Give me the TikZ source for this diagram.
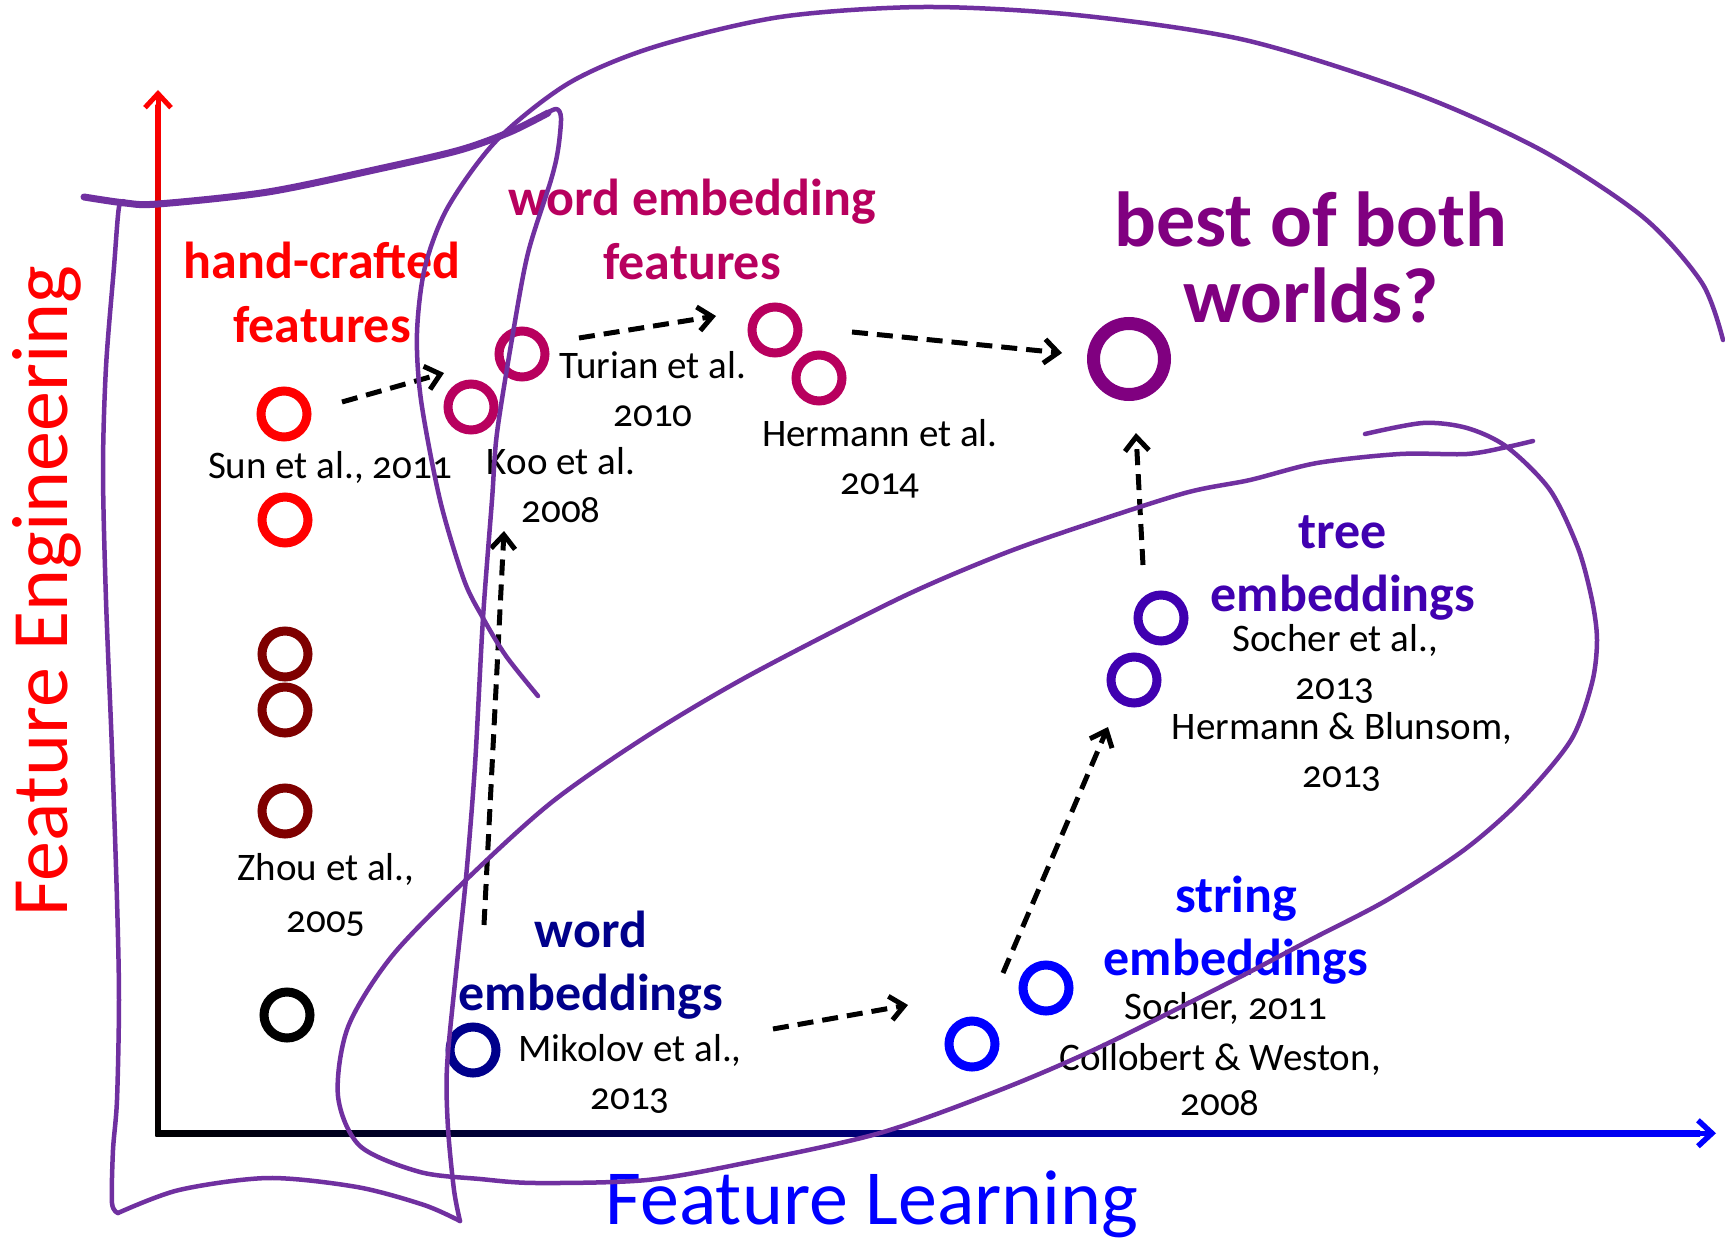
\documentclass[tikz,border=0pt]{standalone}
\usepackage{fontspec}
\setmainfont{Carlito}[Numbers=OldStyle]
\usetikzlibrary{arrows.meta,calc}
\definecolor{hpurple}{HTML}{7030A0}
\definecolor{maroonc}{HTML}{7F0000}
\definecolor{crim}{HTML}{B8005E}
\definecolor{bpurple}{HTML}{800080}
\definecolor{indig}{HTML}{4000B0}
\definecolor{navyc}{HTML}{00008B}
\tikzset{
  ring/.style={circle, draw, line width=9pt, minimum size=46pt, inner sep=0pt},
  cite/.style={font=\fontsize{39}{48}\selectfont, align=center, anchor=base, inner sep=0pt},
  lbl/.style={font=\bfseries\fontsize{52}{63.5}\selectfont, align=center, anchor=base, inner sep=0pt},
  flow/.style={black, line width=5pt, dash pattern=on 16pt off 9pt, -{Straight Barb[length=14pt,width=24pt]}},
  hand/.style={draw=hpurple, line width=4.5pt, line cap=round, line join=round},
}
\begin{document}
\begin{tikzpicture}[x=1pt, y=-1pt]
\fill[white] (0,0) rectangle (1725,1241);
\useasboundingbox (0,0) rectangle (1725,1241);

% axes
\shade[top color=red, bottom color=black] (155.5,105) rectangle (160.5,1136);
\shade[left color=black, right color=blue] (155.5,1130.5) rectangle (1700,1136);
\draw[red, line width=5pt, -{Straight Barb[length=14pt,width=26pt]}] (158,130) -- (158,90);
\draw[blue, line width=5.5pt, -{Straight Barb[length=14pt,width=26pt]}] (1680,1133.25) -- (1716,1133.25);

\node[font=\fontsize{80}{96}\selectfont, text=red, rotate=90, anchor=base, inner sep=0pt] (fe) at (67,591) {Feature Engineering};
\node[font=\fontsize{78}{90}\selectfont, text=blue, anchor=base, inner sep=0pt] (fl) at (872,1224) {Feature Learning};

% circles
\node[ring, draw=red] (sun) at (284,414) {};
\node[ring, draw=red] (hc2) at (285,520) {};
\node[ring, draw=maroonc] (zA) at (285,654) {};
\node[ring, draw=maroonc] (zB) at (285,710) {};
\node[ring, draw=maroonc] (zC) at (285,811) {};
\node[ring, draw=black] (hc0) at (287,1015) {};
\node[ring, draw=crim] (koo) at (471,407) {};
\node[ring, draw=crim] (turian) at (522,354) {};
\node[ring, draw=crim] (hermA) at (775,330) {};
\node[ring, draw=crim] (hermB) at (819,378) {};
\node[ring, draw=bpurple, line width=13pt, minimum size=71pt] (best) at (1129,359) {};
\node[ring, draw=indig] (socherT) at (1161,618) {};
\node[ring, draw=indig] (hb) at (1134,680) {};
\node[ring, draw=blue] (socherS) at (1046,988) {};
\node[ring, draw=blue] (cw) at (972,1044) {};
\node[ring, draw=navyc] (mik) at (473,1050) {};

% group labels (anchor = baseline of last line)
\node[lbl, text=red] (hcl) at (322,342.5) {hand-crafted\\features};
\node[lbl, text=crim] (wefl) at (692,279.5) {word embedding\\features};
\node[font=\bfseries\fontsize{78}{76}\selectfont, align=center, anchor=base, inner sep=0pt, text=bpurple] (bestl) at (1311,323) {best of both\\worlds?};
\node[lbl, text=indig] (treel) at (1343,611.5) {tree\\embeddings};
\node[lbl, text=blue] (strl) at (1236,975.5) {string\\embeddings};
\node[lbl, text=navyc] (wel) at (591,1010.5) {word\\embeddings};

% citations
\node[cite] (c1) at (330,478) {Sun et al., 2011};
\node[cite] (c2) at (561,522) {Koo et al.\\2008};
\node[cite] (c3) at (653,426) {Turian et al.\\2010};
\node[cite] (c4) at (880,494) {Hermann et al.\\2014};
\node[cite, font=\fontsize{39}{52}\selectfont] (c5) at (326,932) {Zhou et al.,\\2005};
\node[cite] (c6) at (630,1109) {Mikolov et al.,\\2013};
\node[cite] (c7) at (1335,699) {Socher et al.,\\2013};
\node[cite] (c8) at (1342,787) {Hermann \& Blunsom,\\2013};
\node[cite] (c9) at (1226,1019) {Socher, 2011};
\node[cite, font=\fontsize{39}{45}\selectfont] (c10) at (1220,1115) {Collobert \& Weston,\\2008};

% dashed arrows
\draw[flow] ($(sun)+(58,-12)$) -- ($(koo)+(-27,-34)$);
\draw[flow] ($(turian)+(57,-16)$) -- ($(hermA)+(-59,-14)$);
\draw[flow] ($(hermA)+(77,2)$) -- ($(best)+(-67,-6)$);
\draw[flow] ($(mik)+(11,-125)$) -- ($(koo)+(33,124)$);
\draw[flow] ($(mik)+(300,-21)$) -- ($(cw)+(-64,-39)$);
\draw[flow] ($(cw)+(31,-71)$) -- ($(hb)+(-26,47)$);
\draw[flow] ($(socherT)+(-18,-53)$) -- ($(best)+(7,74)$);

% hand-drawn purple outlines
\draw[hand, line width=7pt] plot[smooth] coordinates {(84,197) (125,203) (158,204) (268,192) (383,168) (460,150) (510,132) (548,113)};
\draw[hand] plot[smooth] coordinates {(540,117) (556,109) (561,118) (558,150) (551,180) (528,253) (513,333) (497,433) (492,500) (483,618) (475,765) (466,878) (456,973) (447,1067) (448,1128) (454,1190) (460,1221)};
\draw[hand] plot[smooth] coordinates {(460,1221) (424,1205) (357,1187) (268,1178) (179,1190) (118,1213)};
\draw[hand] plot[smooth] coordinates {(118,1213) (112,1203) (113,1150) (117,1100) (119,1000) (117,900) (112,750) (106,600) (103,470) (106,367) (114,267) (119,207) (125,202)};
\draw[hand] plot[smooth] coordinates {(538,696) (506,656) (483,618) (464,580) (440,500) (421,400) (417,333) (425,267) (448,207) (497,140) (569,83) (654,47) (780,17) (924,7) (1076,15) (1245,40) (1414,93) (1541,150) (1643,217) (1702,283) (1723,340)};
\draw[hand] plot[smooth] coordinates {(1533,441) (1507,447) (1467,454) (1400,454) (1317,463) (1250,480) (1185,493) (1079,527) (1000,555) (900,598) (750,675) (647,736) (552,802) (468,878) (392,956) (348,1027) (338,1096) (360,1146) (420,1172) (480,1179) (536,1183) (647,1180) (750,1162) (880,1133) (1000,1090) (1100,1047) (1234,980) (1310,940) (1387,900) (1464,850) (1521,800) (1571,740) (1592,683) (1597,640) (1592,600) (1578,548) (1550,490) (1507,447) (1467,428) (1423,423) (1365,434)};
\end{tikzpicture}
\end{document}
